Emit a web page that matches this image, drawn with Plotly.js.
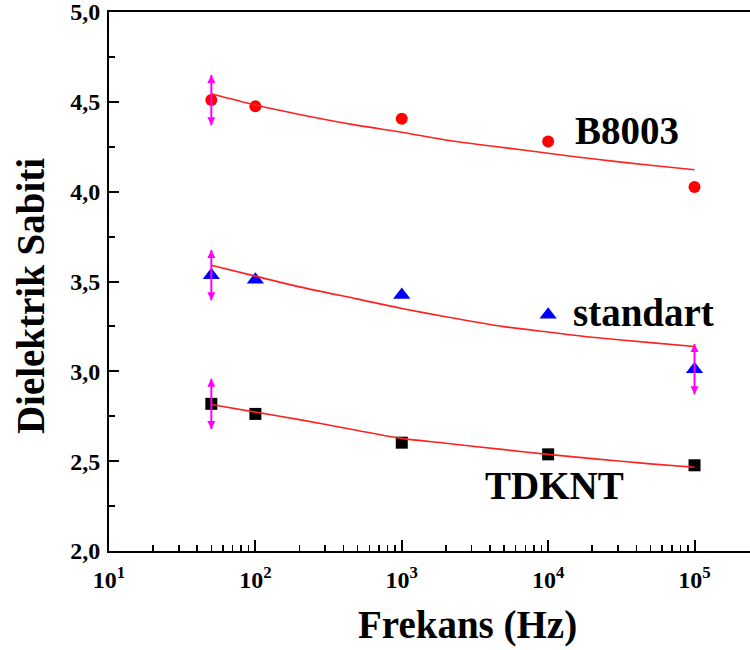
<!DOCTYPE html>
<html>
<head>
<meta charset="utf-8">
<script src="https://cdn.plot.ly/plotly-3.0.1.min.js"></script>
<style>
html, body { margin: 0; padding: 0; overflow: hidden; background: #fff; }
#chart { width: 770px; height: 650px; }
</style>
</head>
<body>
<div id="chart"></div>
<script>
// Measured frequencies (Hz)
var freq = [50, 100, 1000, 10000, 100000];

// Dielectric constant per sample
var b8003 = [4.51, 4.475, 4.406, 4.279, 4.026];
var standart = [3.535, 3.51, 3.425, 3.315, 3.012];
var tdknt = [2.819, 2.763, 2.603, 2.538, 2.477];

// Error bar half-lengths (0 = no bar)
var b8003Err = [0.14, 0, 0, 0, 0];
var standartErr = [0.14, 0, 0, 0, 0.14];
var tdkntErr = [0.14, 0, 0, 0, 0];

// Fitted curves
var fitFreq = [50, 100, 200, 500, 1000, 2000, 5000, 10000, 20000, 50000, 100000];
var b8003Fit = [4.545, 4.482, 4.430, 4.369, 4.331, 4.288, 4.245, 4.214, 4.183, 4.147, 4.122];
var standartFit = [3.590, 3.530, 3.470, 3.402, 3.350, 3.304, 3.249, 3.219, 3.190, 3.160, 3.138];
var tdkntFit = [2.815, 2.773, 2.731, 2.671, 2.627, 2.600, 2.564, 2.538, 2.514, 2.485, 2.466];

// Axis ticks
var xTickVals = [10, 100, 1000, 10000, 100000];
var xTickText = ['10<sup>1</sup>', '10<sup>2</sup>', '10<sup>3</sup>', '10<sup>4</sup>', '10<sup>5</sup>'];
var xMinorTicks = [20, 30, 40, 50, 60, 70, 80, 90,
  200, 300, 400, 500, 600, 700, 800, 900,
  2000, 3000, 4000, 5000, 6000, 7000, 8000, 9000,
  20000, 30000, 40000, 50000, 60000, 70000, 80000, 90000];
var yTickVals = [2.0, 2.5, 3.0, 3.5, 4.0, 4.5, 5.0];
var yTickText = ['2,0', '2,5', '3,0', '3,5', '4,0', '4,5', '5,0'];
var yMinorTicks = [2.25, 2.75, 3.25, 3.75, 4.25, 4.75];

var FONT = '"Liberation Serif", "Times New Roman", serif';
var MAGENTA = '#ff00ff';
var RED = '#ff2020';

function markerTrace(y, sym, color, size) {
  return { x: freq, y: y, type: 'scatter', mode: 'markers', hoverinfo: 'skip',
    marker: { symbol: sym, color: color, size: size, line: { width: 0 } } };
}
function errTrace(y, err) {
  var xs = [], ys = [], es = [];
  for (var i = 0; i < freq.length; i++) {
    if (err[i] > 0) { xs.push(freq[i]); ys.push(y[i]); es.push(err[i]); }
  }
  return { x: xs, y: ys, type: 'scatter', mode: 'markers', hoverinfo: 'skip',
    marker: { size: 1, opacity: 0 },
    error_y: { type: 'data', array: es, visible: true, color: MAGENTA, thickness: 2, width: 0 } };
}
function arrowTrace(y, err, dir) {
  var xs = [], ys = [];
  for (var i = 0; i < freq.length; i++) {
    if (err[i] > 0) { xs.push(freq[i]); ys.push(dir > 0 ? y[i] + err[i] : y[i] - err[i]); }
  }
  return { x: xs, y: ys, type: 'scatter', mode: 'markers', hoverinfo: 'skip',
    marker: { symbol: dir > 0 ? 'arrow-up' : 'arrow-down', color: MAGENTA, size: 8, line: { width: 0 } } };
}
function fitTrace(y) {
  return { x: fitFreq, y: y, type: 'scatter', mode: 'lines', hoverinfo: 'skip',
    line: { color: RED, width: 1.6, shape: 'spline', smoothing: 0.8 } };
}

var traces = [
  markerTrace(b8003, 'circle', '#ff0000', 12),
  markerTrace(standart, 'triangle-up', '#0000ff', 15),
  markerTrace(tdknt, 'square', '#000000', 12),
  errTrace(b8003, b8003Err), errTrace(standart, standartErr), errTrace(tdknt, tdkntErr),
  arrowTrace(b8003, b8003Err, 1), arrowTrace(b8003, b8003Err, -1),
  arrowTrace(standart, standartErr, 1), arrowTrace(standart, standartErr, -1),
  arrowTrace(tdknt, tdkntErr, 1), arrowTrace(tdknt, tdkntErr, -1),
  fitTrace(b8003Fit), fitTrace(standartFit), fitTrace(tdkntFit)
];

var tickFont = { family: FONT, size: 24, color: '#000', weight: 'bold' };
var labelFont = { family: FONT, size: 39, color: '#000', weight: 'bold' };

var layout = {
  width: 770, height: 650,
  margin: { l: 109, r: 14, t: 12, b: 99 },
  paper_bgcolor: '#fff', plot_bgcolor: '#fff',
  showlegend: false,
  xaxis: {
    type: 'log', range: [1, 5.42],
    showgrid: false, zeroline: false,
    showline: true, linecolor: '#000', linewidth: 2, mirror: true,
    ticks: 'inside', ticklen: 11, tickwidth: 2, tickcolor: '#000',
    tickmode: 'array', tickvals: xTickVals, ticktext: xTickText,
    tickfont: tickFont, ticklabelstandoff: 6,
    minor: { tickmode: 'array', tickvals: xMinorTicks, ticks: 'inside', ticklen: 6, tickwidth: 1.5, tickcolor: '#000', showgrid: false }
  },
  yaxis: {
    range: [2, 5],
    showgrid: false, zeroline: false,
    showline: true, linecolor: '#000', linewidth: 2, mirror: true,
    ticks: 'inside', ticklen: 10, tickwidth: 2, tickcolor: '#000',
    tickmode: 'array', tickvals: yTickVals, ticktext: yTickText,
    tickfont: tickFont, ticklabelstandoff: 2, ticklabeloverflow: 'allow',
    minor: { tickmode: 'array', tickvals: yMinorTicks, ticks: 'inside', ticklen: 6, tickwidth: 2, tickcolor: '#000', showgrid: false }
  },
  annotations: [
    { text: 'B8003', xref: 'x', yref: 'y', x: 4.171, y: 4.339, xanchor: 'left', yanchor: 'middle', showarrow: false, font: labelFont },
    { text: 'standart', xref: 'x', yref: 'y', x: 4.159, y: 3.328, xanchor: 'left', yanchor: 'middle', showarrow: false, font: labelFont },
    { text: 'TDKNT', xref: 'x', yref: 'y', x: 3.558, y: 2.365, xanchor: 'left', yanchor: 'middle', showarrow: false, font: labelFont },
    { text: 'Frekans (Hz)', xref: 'paper', yref: 'paper', x: 0.5544, y: -0.137, xanchor: 'center', yanchor: 'middle', showarrow: false, font: labelFont },
    { text: 'Dielektrik Sabiti', xref: 'paper', yref: 'paper', x: -0.122, y: 0.473, xanchor: 'center', yanchor: 'middle', textangle: -90, showarrow: false, font: labelFont }
  ]
};

Plotly.newPlot('chart', traces, layout, { displayModeBar: false, staticPlot: true });
</script>
</body>
</html>
